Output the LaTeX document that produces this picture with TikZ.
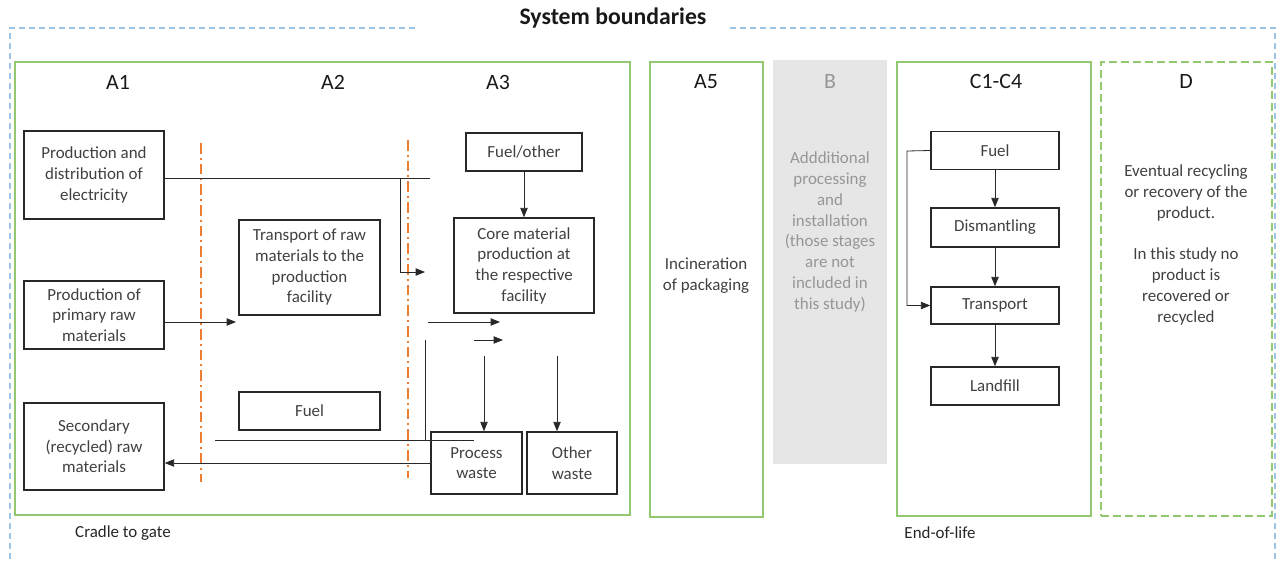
\documentclass[tikz,border=0pt]{standalone}
\usepackage{fontspec}
\setmainfont{Carlito}
\usetikzlibrary{arrows.meta}
\definecolor{gfr}{RGB}{146,200,112}
\definecolor{bdash}{RGB}{157,195,230}
\definecolor{orl}{RGB}{237,125,49}
\definecolor{gfill}{RGB}{230,230,230}
\definecolor{txt}{RGB}{64,64,64}
\definecolor{btxt}{RGB}{150,150,150}
\definecolor{ln}{RGB}{40,40,40}
\tikzset{
  bx/.style args={#1x#2}{minimum width=#1*0.75pt, minimum height=#2*0.75pt},
  box/.style={draw=ln, line width=1.1pt, inner sep=0pt, align=center, text=txt, font=\fontsize{12.7}{15.5}\selectfont},
  frame/.style={draw=gfr, line width=1.3pt, inner sep=0pt},
  dframe/.style={draw=gfr, line width=1.3pt, inner sep=0pt, dash pattern=on 6pt off 3pt},
  stage/.style={font=\fontsize{16.4}{19}\selectfont, text=black!90},
  plain/.style={align=center, text=txt, font=\fontsize{12.7}{15.7}\selectfont},
  conn/.style={draw=ln, line width=0.6pt},
  arr/.style={conn, -{Triangle[length=7pt,width=5.5pt]}},
  orangeline/.style={draw=orl, line width=1.2pt, dash pattern=on 8pt off 3pt on 1.5pt off 3pt},
  bluebound/.style={draw=bdash, line width=1.1pt, dash pattern=on 4.5pt off 3pt}
}
\begin{document}
\begin{tikzpicture}[x=0.75pt,y=-0.75pt]
\useasboundingbox (0,0) rectangle (1279,561);
% system boundary
\node[font=\bfseries\fontsize{17.8}{20}\selectfont, text=black!90] (title) at (613,18) {System boundaries};
\coordinate (bl1) at (415,28);
\coordinate (bl2) at (730,28);
\draw[bluebound] (bl1) -- (10,28) -- (10,561);
\draw[bluebound] (bl2) -- (1275,28) -- (1275,561);
% frames
\node[frame, bx=615x453] (fA) at (322.5,288.5) {};
\node[frame, bx=113x455] (fA5) at (706.5,289.5) {};
\node[fill=gfill, inner sep=0pt, bx=114x404] (fB) at (830,262) {};
\node[frame, bx=194x454] (fC) at (994,289) {};
\node[dframe, bx=171x454] (fD) at (1186.5,289) {};
% stage labels
\node[stage] (lA1) at (118,82) {A1};
\node[stage] (lA2) at (333,82) {A2};
\node[stage] (lA3) at (498,82) {A3};
\node[stage] (lA5) at (706,82) {A5};
\node[stage, text=btxt] (lB) at (830,81) {B};
\node[stage] (lC) at (996,81) {C1-C4};
\node[stage] (lD) at (1186,81) {D};
\node[plain, text=black!85] (ctg) at (123,533) {Cradle to gate};
\node[plain, text=black!85] (eol) at (940,533) {End-of-life};
% orange separators
\coordinate (o1t) at (201,143); \coordinate (o1b) at (201,482);
\coordinate (o2t) at (408,140); \coordinate (o2b) at (408,478);
\draw[orangeline] (o1t) -- (o1b);
\draw[orangeline] (o2t) -- (o2b);
% A1 boxes
\node[box, bx=140x88] (elec) at (94,175) {Production and\\distribution of\\electricity};
\node[box, bx=140x68] (prim) at (94,315) {Production of\\primary raw\\materials};
\node[box, bx=140x87] (sec) at (94,446.5) {Secondary\\(recycled) raw\\materials};
% A2 boxes
\node[box, bx=141x95] (trans) at (309.5,267.5) {Transport of raw\\materials to the\\production\\facility};
\node[box, bx=141x38] (fuelA) at (309.5,411) {Fuel};
% A3 boxes
\node[box, bx=116x38] (fuelo) at (524,152) {Fuel/other};
\node[box, bx=140x95] (core) at (524,265.5) {Core material\\production at\\the respective\\facility};
\node[box, bx=91x62] (pw) at (476.5,463) {Process\\waste};
\node[box, bx=90x62] (ow) at (572,463) {Other\\waste};
% A5, B, D text
\node[plain] (inc) at (706,276) {Incineration\\of packaging};
\node[plain, text=btxt] (btext) at (830,232) {Addditional\\processing\\and\\installation\\(those stages\\are not\\included in\\this study)};
\node[plain] (dtext) at (1186,245) {Eventual recycling\\or recovery of the\\product.\\[15.7pt]In this study no\\product is\\recovered or\\recycled};
% C boxes
\node[box, bx=128x38] (cfuel) at (995,150.5) {Fuel};
\node[box, bx=128x39] (dism) at (995,227.5) {Dismantling};
\node[box, bx=128x37] (ctr) at (995,305.5) {Transport};
\node[box, bx=128x38] (land) at (995,386) {Landfill};
% A connectors
\coordinate (e1) at (430,178);
\coordinate (e2) at (400,178);
\coordinate (e3) at (400,272);
\coordinate (e4) at (425,272);
\draw[conn] (elec.east |- e1) -- (e1);
\draw[arr] (e2) -- (e3) -- (e4);
\coordinate (p1) at (236,322);
\draw[arr] (prim.east |- p1) -- (p1);
\coordinate (c1a) at (428,322); \coordinate (c1b) at (500,322);
\draw[arr] (c1a) -- (c1b);
\coordinate (c2a) at (474,340); \coordinate (c2b) at (503,340);
\draw[arr] (c2a) -- (c2b);
\coordinate (v1) at (425,340); \coordinate (v2) at (425,440);
\draw[conn] (v1) -- (v2);
\coordinate (h1) at (215,440); \coordinate (h2) at (474,440);
\draw[conn] (h1) -- (h2);
\coordinate (pwa) at (484,356);
\draw[arr] (pwa) -- (pwa |- pw.north);
\coordinate (owa) at (557,356);
\draw[arr] (owa) -- (owa |- ow.north);
\draw[arr] (pw.west) -- (sec.east |- pw.west);
\draw[arr] (fuelo) -- (core);
% C connectors
\draw[arr] (cfuel) -- (dism);
\draw[arr] (dism) -- (ctr);
\draw[arr] (ctr) -- (land);
\coordinate (lp) at (907,151);
\draw[arr] (cfuel.west) -- (lp) -- (lp |- ctr.west) -- (ctr.west);
\end{tikzpicture}
\end{document}
